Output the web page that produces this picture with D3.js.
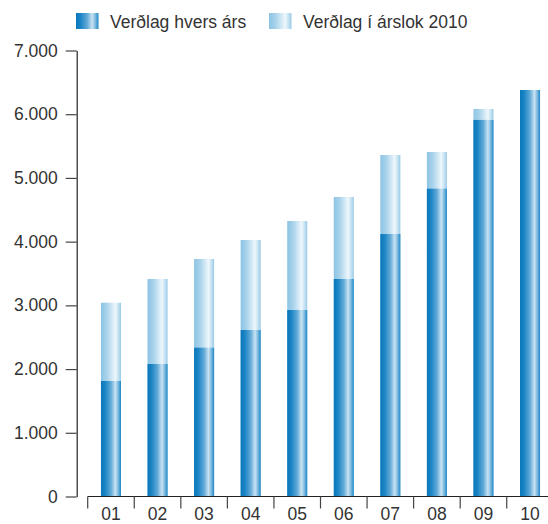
<!DOCTYPE html>
<html><head><meta charset="utf-8">
<script src="https://cdn.jsdelivr.net/npm/d3@7"></script>
<style>
html,body{margin:0;padding:0;background:#fff;}
text{font-family:"Liberation Sans",Arial,sans-serif;}
</style></head>
<body>
<svg id="chart" width="548" height="524"></svg>
<script>
const categories = ["01","02","03","04","05","06","07","08","09","10"];
const seriesNames = ["Verðlag hvers árs","Verðlag í árslok 2010"];
const yearPrice = [1813,2080,2336,2613,2927,3414,4120,4831,5910,6380];
const price2010 = [3042,3414,3728,4026,4324,4701,5360,5407,6082,6380];
const yTicks = [0,1000,2000,3000,4000,5000,6000,7000];

const svg = d3.select("#chart");
const defs = svg.append("defs");
function grad(id, stops){
  const g = defs.append("linearGradient").attr("id",id).attr("x1","0").attr("x2","1").attr("y1","0").attr("y2","0");
  stops.forEach(s=>g.append("stop").attr("offset",s[0]).attr("stop-color",s[1]));
}
grad("gDark",[[0,"#0a77bb"],[0.2,"#1a84c4"],[0.5,"#62aad8"],[0.72,"#c9e3f3"],[0.86,"#7db9df"],[1,"#1e88c7"]]);
grad("gLight",[[0,"#8cc4e3"],[0.3,"#a9d3eb"],[0.72,"#eef7fc"],[0.88,"#c2e0f1"],[1,"#97cae6"]]);

const y = d3.scaleLinear().domain([0,7000]).range([496.5,50.5]);
const x = d3.scaleBand().domain(categories).range([87.7,553.3]).paddingInner(0).paddingOuter(0);
const bw = x.bandwidth();
const barW = bw*0.43;

svg.append("g").selectAll("rect").data(categories).join("rect")
  .attr("x",(c)=>x(c)+(bw-barW)/2)
  .attr("width",barW)
  .attr("y",(c,i)=>y(price2010[i]))
  .attr("height",(c,i)=>y(0)-y(price2010[i]))
  .attr("fill","url(#gLight)");
svg.append("g").selectAll("rect").data(categories).join("rect")
  .attr("x",(c)=>x(c)+(bw-barW)/2)
  .attr("width",barW)
  .attr("y",(c,i)=>y(yearPrice[i]))
  .attr("height",(c,i)=>y(0)-y(yearPrice[i]))
  .attr("fill","url(#gDark)");

const fmt = d=>d3.format(",")(d).replace(/,/g,".");
const ya = svg.append("g").attr("transform","translate(76.7,0)")
  .call(d3.axisLeft(y).tickValues(yTicks).tickSize(11).tickSizeOuter(0).tickPadding(8).tickFormat(fmt));
ya.select(".domain").attr("stroke","#222").attr("stroke-width",1.2);
ya.selectAll(".tick line").attr("stroke","#444").attr("stroke-width",1.2);
ya.selectAll(".tick text").attr("font-size",17.5).attr("fill","#333").attr("font-family","Liberation Sans, Arial, sans-serif");

const xa = svg.append("g").attr("transform","translate(0,496.5)");
xa.append("line").attr("x1",x.range()[0]).attr("x2",548).attr("stroke","#222").attr("stroke-width",1.2);
xa.selectAll("line.t").data(categories).join("line").attr("class","t")
  .attr("x1",c=>x(c)).attr("x2",c=>x(c)).attr("y1",0).attr("y2",12)
  .attr("stroke","#444").attr("stroke-width",1.2);
xa.selectAll("text").data(categories).join("text")
  .attr("x",c=>x(c)+bw/2).attr("y",23).attr("text-anchor","middle")
  .attr("font-size",17.5).attr("fill","#333").text(c=>c);

const lg = svg.append("g");
const legendItems = [{name:seriesNames[0],fill:"url(#gDark)",x:76},{name:seriesNames[1],fill:"url(#gLight)",x:269}];
legendItems.forEach(it=>{
  lg.append("rect").attr("x",it.x).attr("y",13).attr("width",22.5).attr("height",16).attr("fill",it.fill);
  lg.append("text").attr("x",it.x+34).attr("y",27.5).attr("font-size",17.5).attr("fill","#333").text(it.name);
});
</script>
</body></html>
